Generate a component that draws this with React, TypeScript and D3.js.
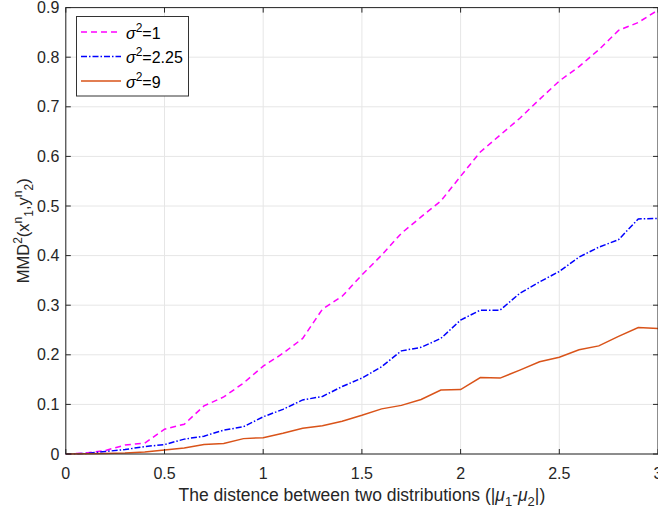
import { useEffect, useRef } from 'react';
import * as d3 from 'd3';

// distance between the two distributions
const distances = [0, 0.1, 0.2, 0.3, 0.4, 0.5, 0.6, 0.7, 0.8, 0.9, 1.0, 1.1, 1.2, 1.3, 1.4, 1.5, 1.6, 1.7, 1.8, 1.9, 2.0, 2.1, 2.2, 2.3, 2.4, 2.5, 2.6, 2.7, 2.8, 2.9, 3.0];

const mmdSigma1 = [0, 0.002, 0.007, 0.018, 0.022, 0.05, 0.06, 0.097, 0.115, 0.143, 0.177, 0.203, 0.233, 0.292, 0.318, 0.361, 0.401, 0.445, 0.478, 0.51, 0.56, 0.609, 0.643, 0.677, 0.715, 0.752, 0.781, 0.815, 0.854, 0.87, 0.895];
const mmdSigma225 = [0, 0.001, 0.005, 0.009, 0.015, 0.019, 0.03, 0.036, 0.048, 0.055, 0.075, 0.09, 0.109, 0.116, 0.136, 0.153, 0.176, 0.208, 0.215, 0.233, 0.27, 0.29, 0.29, 0.324, 0.347, 0.368, 0.397, 0.417, 0.432, 0.474, 0.475];
const mmdSigma9 = [0, 0.0005, 0.001, 0.002, 0.004, 0.008, 0.012, 0.019, 0.021, 0.031, 0.033, 0.042, 0.052, 0.057, 0.066, 0.078, 0.091, 0.098, 0.11, 0.129, 0.13, 0.154, 0.153, 0.169, 0.186, 0.195, 0.21, 0.218, 0.237, 0.255, 0.253];

const legendValues = ['1', '2.25', '9'];
const xTicks = [0, 0.5, 1, 1.5, 2, 2.5, 3];
const yTicks = [0, 0.1, 0.2, 0.3, 0.4, 0.5, 0.6, 0.7, 0.8, 0.9];

const App = () => {
  const svgRef = useRef<SVGSVGElement>(null);

  useEffect(() => {
    if (!svgRef.current) return;
    const svg = d3.select(svgRef.current);
    svg.selectAll('*').remove();

    const width = 658;
    const height = 512;
    const left = 65.8, right = 658, top = 7.6, bottom = 454;
    const axisColor = '#262626';
    const font = '"Liberation Sans", Arial, sans-serif';

    const x = d3.scaleLinear().domain([0, 3]).range([left, right]);
    const y = d3.scaleLinear().domain([0, 0.9]).range([bottom, top]);

    svg.append('rect').attr('width', width).attr('height', height).attr('fill', '#fff');

    // grid
    const grid = svg.append('g').attr('stroke', '#e6e6e6').attr('stroke-width', 1);
    xTicks.forEach(t => {
      grid.append('line').attr('x1', x(t)).attr('x2', x(t)).attr('y1', top).attr('y2', bottom);
    });
    yTicks.forEach(t => {
      grid.append('line').attr('x1', left).attr('x2', right).attr('y1', y(t)).attr('y2', y(t));
    });

    // series
    const series = [
      { values: mmdSigma1, color: '#ff00ff', dash: '6,4' },
      { values: mmdSigma225, color: '#0000ff', dash: '6,2,1.5,2' },
      { values: mmdSigma9, color: '#d95319', dash: null as string | null },
    ];

    const line = d3.line<number>()
      .x((_, i) => x(distances[i]))
      .y(d => y(d));

    series.forEach(s => {
      const p = svg.append('path')
        .datum(s.values)
        .attr('d', line)
        .attr('fill', 'none')
        .attr('stroke', s.color)
        .attr('stroke-width', 1.5);
      if (s.dash) p.attr('stroke-dasharray', s.dash);
    });

    // axes box and ticks (MATLAB style, inward)
    const ax = svg.append('g').attr('stroke', axisColor).attr('stroke-width', 1);
    ax.append('rect')
      .attr('x', left).attr('y', top)
      .attr('width', right - left).attr('height', bottom - top)
      .attr('fill', 'none');
    const tl = 5;
    xTicks.forEach(t => {
      ax.append('line').attr('x1', x(t)).attr('x2', x(t)).attr('y1', bottom).attr('y2', bottom - tl);
      ax.append('line').attr('x1', x(t)).attr('x2', x(t)).attr('y1', top).attr('y2', top + tl);
    });
    yTicks.forEach(t => {
      ax.append('line').attr('x1', left).attr('x2', left + tl).attr('y1', y(t)).attr('y2', y(t));
      ax.append('line').attr('x1', right).attr('x2', right - tl).attr('y1', y(t)).attr('y2', y(t));
    });

    // tick labels
    const fmt = d3.format('');
    xTicks.forEach(t => {
      svg.append('text')
        .attr('x', x(t)).attr('y', bottom + 24.5)
        .attr('text-anchor', 'middle')
        .attr('fill', axisColor)
        .style('font-family', font).style('font-size', '16px')
        .text(fmt(t));
    });
    yTicks.forEach(t => {
      svg.append('text')
        .attr('x', left - 6.5).attr('y', y(t) + 5.5)
        .attr('text-anchor', 'end')
        .attr('fill', axisColor)
        .style('font-family', font).style('font-size', '16px')
        .text(fmt(t));
    });

    // x label
    const xl = svg.append('text')
      .attr('x', (left + right) / 2).attr('y', 501)
      .attr('text-anchor', 'middle')
      .attr('fill', axisColor)
      .style('font-family', font).style('font-size', '17.5px');
    xl.append('tspan').text('The distence between two distributions (|');
    xl.append('tspan').style('font-style', 'italic').text('μ');
    xl.append('tspan').attr('dy', 5).style('font-size', '13px').text('1');
    xl.append('tspan').attr('dy', -5).text('-');
    xl.append('tspan').style('font-style', 'italic').text('μ');
    xl.append('tspan').attr('dy', 5).style('font-size', '13px').text('2');
    xl.append('tspan').attr('dy', -5).text('|)');

    // y label
    const yl = svg.append('text')
      .attr('transform', `translate(29,${(top + bottom) / 2}) rotate(-90)`)
      .attr('text-anchor', 'middle')
      .attr('fill', axisColor)
      .style('font-family', font).style('font-size', '16.5px');
    yl.append('tspan').text('MMD');
    yl.append('tspan').attr('dy', -7).style('font-size', '12px').text('2');
    yl.append('tspan').attr('dy', 7).text('(x');
    yl.append('tspan').attr('dy', -7).style('font-size', '12px').text('n');
    yl.append('tspan').attr('dy', 11).style('font-size', '12px').text('1');
    yl.append('tspan').attr('dy', -4).text(',y');
    yl.append('tspan').attr('dy', -7).style('font-size', '12px').text('n');
    yl.append('tspan').attr('dy', 11).style('font-size', '12px').text('2');
    yl.append('tspan').attr('dy', -4).text(')');

    // legend
    const lg = svg.append('g');
    lg.append('rect')
      .attr('x', 76.5).attr('y', 16.5).attr('width', 112).attr('height', 79.5)
      .attr('fill', '#fff').attr('stroke', '#333').attr('stroke-width', 1);
    series.forEach((s, i) => {
      const ly = 32 + i * 24.5;
      const l = lg.append('line')
        .attr('x1', 81).attr('x2', 121).attr('y1', ly).attr('y2', ly)
        .attr('stroke', s.color).attr('stroke-width', 1.5);
      if (s.dash) l.attr('stroke-dasharray', s.dash);
      const t = lg.append('text')
        .attr('x', 126).attr('y', ly + 6.5)
        .attr('fill', '#000')
        .style('font-family', font).style('font-size', '16px');
      t.append('tspan').style('font-style', 'italic').text('σ');
      t.append('tspan').attr('dy', -7).style('font-size', '12px').text('2');
      t.append('tspan').attr('dy', 7).text('=' + legendValues[i]);
    });
  }, []);

  return (
    <svg
      ref={svgRef}
      width={658}
      height={512}
      viewBox="0 0 658 512"
      style={{ position: 'absolute', left: 0, top: 0, display: 'block' }}
    />
  );
};

export default App;
